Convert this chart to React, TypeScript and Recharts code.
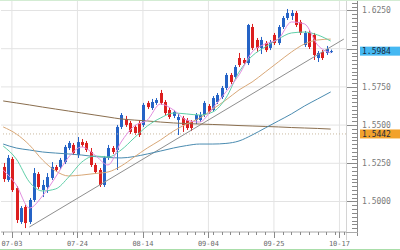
import {
  ComposedChart,
  Bar,
  Line,
  XAxis,
  YAxis,
  CartesianGrid,
  ReferenceLine,
} from "recharts";

// date labels sit on these candle slots
const dateLabels = ["07-03", "07-24", "08-14", "09-04", "09-25", "10-17"];
const dateSlots = [2, 17, 32, 47, 62, 77];

const opens = [
  1.5226, 1.5141, 1.5278, 1.5088, 1.4866, 1.4964, 1.4866, 1.501, 1.518, 1.5075,
  1.5095, 1.5154, 1.5226, 1.5226, 1.5258, 1.535, 1.537, 1.5304, 1.5389, 1.5383,
  1.5324, 1.5239, 1.5206, 1.5108, 1.5291, 1.535, 1.5337, 1.5488, 1.554, 1.5514,
  1.5488, 1.5514, 1.5501, 1.5645, 1.5612, 1.5645, 1.571, 1.5651, 1.5599, 1.556,
  1.5533, 1.5546, 1.5533, 1.552, 1.5533, 1.5533, 1.5566, 1.5625, 1.5599, 1.5651,
  1.5684, 1.5743, 1.5828, 1.5815, 1.5939, 1.5926, 1.5906, 1.6142, 1.6057, 1.6005,
  1.6037, 1.6005, 1.609, 1.6037, 1.6142, 1.6201, 1.6214, 1.6234, 1.6175, 1.6024,
  1.6109, 1.609, 1.5939, 1.5978, 1.5972, 1.598,
];
const highs = [
  1.5252, 1.5304, 1.5291, 1.5101, 1.497, 1.4977, 1.5023, 1.5219, 1.5193, 1.5141,
  1.5186, 1.5258, 1.5239, 1.5285, 1.537, 1.5396, 1.5383, 1.5422, 1.5409, 1.5396,
  1.535, 1.5252, 1.5219, 1.5298, 1.537, 1.5363, 1.5501, 1.5579, 1.556, 1.5527,
  1.5501, 1.5533, 1.5645, 1.5658, 1.5671, 1.5677, 1.573, 1.5664, 1.5612, 1.5599,
  1.5573, 1.556, 1.5546, 1.5533, 1.5579, 1.5586, 1.5658, 1.5638, 1.569, 1.571,
  1.5756, 1.5841, 1.5841, 1.5893, 1.5972, 1.5939, 1.6162, 1.6162, 1.607, 1.6077,
  1.605, 1.6057, 1.6103, 1.6155, 1.6214, 1.626, 1.6253, 1.6247, 1.6188, 1.6116,
  1.6122, 1.6103, 1.5985, 1.5991, 1.6018, 1.5994,
];
const lows = [
  1.5128, 1.5128, 1.5062, 1.4859, 1.4853, 1.4826, 1.4853, 1.4997, 1.5082, 1.5029,
  1.5056, 1.5141, 1.5193, 1.5213, 1.5245, 1.5337, 1.5304, 1.5285, 1.5357, 1.5324,
  1.5226, 1.518, 1.5095, 1.5095, 1.5272, 1.5311, 1.5206, 1.5474, 1.5488, 1.5442,
  1.5435, 1.5422, 1.5488, 1.5605, 1.5599, 1.5632, 1.5632, 1.5566, 1.554, 1.5546,
  1.5435, 1.5455, 1.5468, 1.5461, 1.5507, 1.552, 1.5553, 1.5573, 1.5586, 1.5638,
  1.5671, 1.573, 1.5769, 1.5802, 1.588, 1.5893, 1.5893, 1.5991, 1.5978, 1.5965,
  1.5978, 1.5991, 1.6024, 1.6024, 1.6129, 1.6188, 1.6188, 1.6142, 1.609, 1.6011,
  1.5998, 1.5926, 1.5913, 1.5926, 1.5959, 1.5972,
];
const closes = [
  1.5147, 1.5285, 1.5075, 1.4879, 1.4957, 1.4859, 1.501, 1.5186, 1.5095, 1.5108,
  1.516, 1.5226, 1.5206, 1.5272, 1.5357, 1.5383, 1.5317, 1.5389, 1.537, 1.5337,
  1.5239, 1.5193, 1.5108, 1.5285, 1.535, 1.5324, 1.5488, 1.5566, 1.5501, 1.5455,
  1.5448, 1.5435, 1.5632, 1.5618, 1.5651, 1.5664, 1.5645, 1.5579, 1.5553, 1.5586,
  1.5553, 1.5501, 1.5481, 1.5481, 1.5566, 1.5566, 1.5645, 1.5586, 1.5677, 1.5697,
  1.5743, 1.5828, 1.5782, 1.588, 1.5893, 1.5906, 1.6155, 1.6005, 1.6005, 1.6057,
  1.5991, 1.6044, 1.6037, 1.6142, 1.6201, 1.6234, 1.6234, 1.6155, 1.6103, 1.6103,
  1.6011, 1.5959, 1.5972, 1.5939, 1.5998, 1.5984,
];

// moving averages, one value every 3rd candle
const maStep = 3;
const maFast = [
  1.5206, 1.5108, 1.4957, 1.5036, 1.516, 1.5291, 1.5357, 1.5304, 1.5239, 1.5389,
  1.5494, 1.5533, 1.5638, 1.5599, 1.5533, 1.552, 1.5612, 1.5717, 1.5828, 1.5978,
  1.6031, 1.6063, 1.6175, 1.6162, 1.6024, 1.5972,
];
const maMid = [
  1.5363, 1.5278, 1.5128, 1.5069, 1.5082, 1.516, 1.5258, 1.5298, 1.5291, 1.5337,
  1.5416, 1.5494, 1.5546, 1.5579, 1.5573, 1.5566, 1.5586, 1.5677, 1.5847, 1.5952,
  1.6011, 1.6063, 1.6103, 1.6109, 1.609, 1.605,
];
const maSlow = [
  1.5488, 1.5442, 1.537, 1.5272, 1.52, 1.5167, 1.5173, 1.5183, 1.5193, 1.5232,
  1.5291, 1.535, 1.5402, 1.5461, 1.5507, 1.5546, 1.5605, 1.5664, 1.573, 1.5782,
  1.5847, 1.5913, 1.5978, 1.6031, 1.6057, 1.6063,
];
const maLong = [
  1.5376, 1.535, 1.5337, 1.5324, 1.5317, 1.5311, 1.5304, 1.5294, 1.5288, 1.5285,
  1.5294, 1.5311, 1.533, 1.535, 1.5366, 1.5376, 1.5376, 1.538, 1.5396, 1.5435,
  1.5481, 1.5527, 1.5573, 1.5625, 1.5671, 1.5717,
];
const maYear = [
  1.5658, 1.5645, 1.5632, 1.5618, 1.5605, 1.5592, 1.5579, 1.5566, 1.5553, 1.554,
  1.5533, 1.5527, 1.552, 1.5514, 1.551, 1.5507, 1.5504, 1.5501, 1.5497, 1.5494,
  1.5491, 1.5488, 1.5484, 1.5481, 1.5478, 1.5474,
];

const lastPrice = 1.5984;
const markedPrice = 1.5442;
const trendFrom = { x: 6, y: 1.4833 };
const trendTo = { x: 78, y: 1.6063 };

const SLOTS = 79;
const Y_MIN = 1.48003;
const Y_MAX = 1.63187;
const BULL = "#2563c6";
const BEAR = "#dc1f1f";
const MONO = "DejaVu Sans Mono, monospace";

const rows = Array.from({ length: SLOTS }, (_, i) => {
  const row: any = { i };
  if (i < opens.length) {
    row.o = opens[i];
    row.h = highs[i];
    row.l = lows[i];
    row.c = closes[i];
    row.range = [lows[i], highs[i]];
  }
  if (i % maStep === 0 && i / maStep < maFast.length) {
    const k = i / maStep;
    row.maFast = maFast[k];
    row.maMid = maMid[k];
    row.maSlow = maSlow[k];
    row.maLong = maLong[k];
    row.maYear = maYear[k];
  }
  return row;
});

const majorPrices: number[] = [];
for (let k = 0; k <= 5; k++) majorPrices.push(+(1.5 + k * 0.025).toFixed(4));
const priceTicks: number[] = [];
for (let k = 0; k <= 59; k++) priceTicks.push(+(1.4825 + k * 0.0025).toFixed(4));
priceTicks.push(markedPrice, lastPrice);

const slotTicks = Array.from({ length: SLOTS }, (_, i) => i).filter(
  (i) => i % 2 === 0 || dateSlots.includes(i)
);

function Candle(props: any) {
  const { x, y, width, height, payload } = props;
  if (payload == null || payload.o == null || !height) return null;
  const top = height < 0 ? y + height : y;
  const span = Math.abs(height);
  const { o, h, l, c } = payload;
  const k = span / (h - l);
  const yO = top + (h - o) * k;
  const yC = top + (h - c) * k;
  const color = c >= o ? BULL : BEAR;
  const cx = Math.round(x + width / 2) + 0.5;
  return (
    <g>
      <line x1={cx} x2={cx} y1={top} y2={top + span} stroke={color} strokeWidth={1} />
      <rect
        x={cx - 1.5}
        y={Math.min(yO, yC)}
        width={3}
        height={Math.max(Math.abs(yC - yO), 1)}
        fill={color}
      />
    </g>
  );
}

function PriceTick(props: any) {
  const { y, payload, index } = props;
  const v = payload.value;
  const frame =
    index === 0 ? (
      <g>
        <line x1={346.5} x2={346.5} y1={0} y2={240} stroke="#d4d4d4" />
        <line x1={357.5} x2={357.5} y1={0} y2={236} stroke="#8a8a8a" />
        <line x1={346} x2={358} y1={232.5} y2={232.5} stroke="#aaa" />
        <line x1={0} x2={400} y1={0.5} y2={0.5} stroke="#d3ecd3" />
        <line x1={0} x2={400} y1={249.5} y2={249.5} stroke="#a9dea9" />
      </g>
    ) : null;
  if (v === lastPrice || v === markedPrice) {
    const fill = v === lastPrice ? "#45b8f2" : "#f2a22c";
    return (
      <g>
        <rect x={360} y={y - 4.5} width={41} height={9} fill={fill} />
        <text x={362} y={y + 3} fontSize={8} fontFamily={MONO} fill="#1c2a3a">
          {v.toFixed(4)}
        </text>
      </g>
    );
  }
  const major = majorPrices.includes(v);
  // the last-price box covers this label in the original
  const hidden = Math.abs(v - lastPrice) < 0.004;
  const yy = Math.round(y) + 0.5;
  return (
    <g>
      {frame}
      <line x1={major ? 347 : 352} x2={357} y1={yy} y2={yy} stroke="#8a8a8a" />
      {major && !hidden && (
        <text x={362} y={y + 3} fontSize={8} fontFamily={MONO} fill="#7a7a7a">
          {v.toFixed(4)}
        </text>
      )}
    </g>
  );
}

function DateTick(props: any) {
  const { x, payload } = props;
  const slot = dateSlots.indexOf(payload.value);
  const xx = Math.round(x) + 0.5;
  return (
    <g>
      <line x1={xx} x2={xx} y1={232} y2={slot >= 0 ? 238 : 235} stroke="#8a8a8a" />
      {slot >= 0 && (
        <text x={x} y={245.5} textAnchor="middle" fontSize={7} fontFamily={MONO} fill="#6a6a6a">
          {dateLabels[slot]}
        </text>
      )}
    </g>
  );
}

export default function App() {
  return (
    <div style={{ position: "absolute", left: 0, top: 0, width: 400, height: 250, background: "#fff" }}>
      <ComposedChart
        width={400}
        height={250}
        data={rows}
        margin={{ top: 0, right: 0, bottom: 0, left: 1 }}
      >
        <CartesianGrid
          stroke="#e3e3e3"
          horizontalValues={majorPrices}
          verticalValues={dateSlots}
        />
        <XAxis
          dataKey="i"
          type="category"
          ticks={slotTicks}
          interval={0}
          height={18}
          tick={<DateTick />}
          tickLine={false}
          axisLine={{ stroke: "#aaa" }}
        />
        <YAxis
          orientation="right"
          type="number"
          domain={[Y_MIN, Y_MAX]}
          allowDataOverflow
          ticks={priceTicks}
          interval={0}
          width={54}
          tick={<PriceTick />}
          tickLine={false}
          axisLine={false}
        />
        <ReferenceLine y={markedPrice} stroke="#c9b9a0" strokeDasharray="1 2" />
        <ReferenceLine segment={[trendFrom, trendTo]} stroke="#8f8f8f" strokeWidth={1} />
        <Bar dataKey="range" barSize={3} shape={<Candle />} isAnimationActive={false} />
        <Line dataKey="maYear" type="monotone" stroke="#8a6e4e" strokeWidth={1} dot={false} connectNulls isAnimationActive={false} />
        <Line dataKey="maLong" type="monotone" stroke="#4a8bb0" strokeWidth={1} dot={false} connectNulls isAnimationActive={false} />
        <Line dataKey="maSlow" type="monotone" stroke="#d9a878" strokeWidth={1} dot={false} connectNulls isAnimationActive={false} />
        <Line dataKey="maMid" type="monotone" stroke="#5fcfa8" strokeWidth={1} dot={false} connectNulls isAnimationActive={false} />
        <Line dataKey="maFast" type="monotone" stroke="#e28ee0" strokeWidth={1} dot={false} connectNulls isAnimationActive={false} />
      </ComposedChart>
    </div>
  );
}
